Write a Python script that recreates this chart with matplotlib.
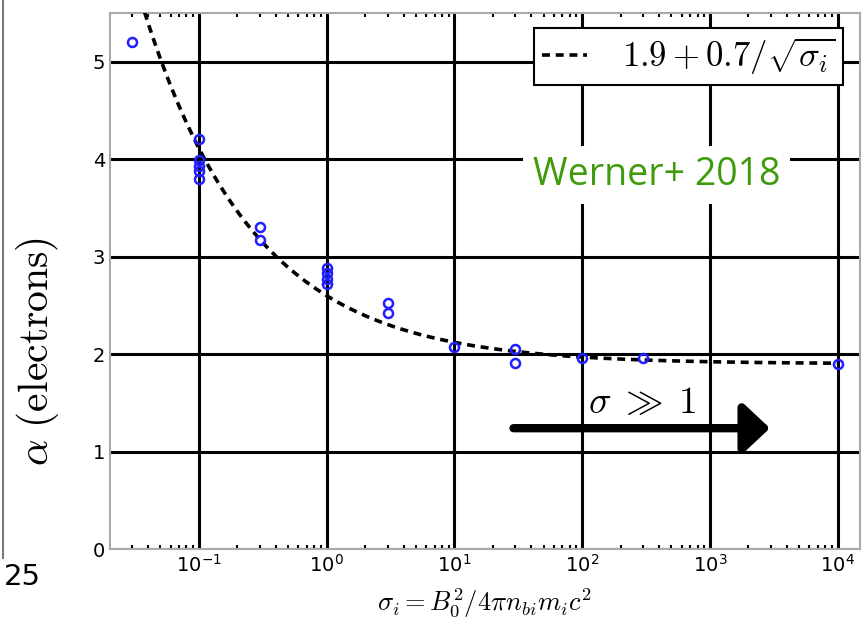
import numpy as np
import matplotlib
matplotlib.use("Agg")
import matplotlib.pyplot as plt
from matplotlib.lines import Line2D
from matplotlib.font_manager import FontProperties

# measured power-law index vs. magnetisation
sigma = [0.03,
         0.1, 0.1, 0.1, 0.1, 0.1,
         0.3, 0.3,
         1.0, 1.0, 1.0, 1.0,
         3.0, 3.0,
         10.0,
         30.0, 30.0,
         100.0,
         300.0,
         1e4]
alpha = [5.2,
         4.21, 3.99, 3.93, 3.88, 3.80,
         3.30, 3.17,
         2.88, 2.83, 2.77, 2.72,
         2.52, 2.42,
         2.07,
         2.05, 1.91,
         1.96,
         1.96,
         1.90]

# fit: alpha = a0 + a1/sqrt(sigma)
a0 = 1.9
a1 = 0.7

plt.rcParams['mathtext.fontset'] = 'dejavusans'
plt.rcParams['font.family'] = ['DejaVu Sans']

fig = plt.figure(figsize=(8.65, 6.26), dpi=100)
ax = fig.add_axes([0.127, 0.123, 0.867, 0.856])

xs = np.logspace(np.log10(0.03), 4, 400)
ax.plot(xs, a0 + a1 / np.sqrt(xs), 'k--', lw=2.6, dashes=(2.2, 1.6),
        label=r'$1.9+0.7/\sqrt{\sigma_i}$', zorder=3)
ax.plot(sigma, alpha, 'o', mfc='none', mec='#2020ff', mew=1.8, ms=6.5,
        zorder=4)

ax.set_xscale('log')
ax.set_xlim(0.0201, 1.49e4)
ax.set_ylim(0, 5.5)
ax.set_yticks([0, 1, 2, 3, 4, 5])
ax.set_xticks([1e-1, 1e0, 1e1, 1e2, 1e3, 1e4])
ax.grid(True, which='major', color='black', lw=2.2)
ax.tick_params(which='both', direction='in', top=True, right=False,
               labelsize=14)
ax.tick_params(which='major', length=4, width=1)
ax.tick_params(which='minor', length=3, width=1.5)
ax.tick_params(axis='y', left=False)
for s in ax.spines.values():
    s.set_color('#aaaaaa')
    s.set_linewidth(1.5)

ax.set_ylabel(r'$\alpha\ \mathrm{(electrons)}$', fontsize=30,
              math_fontfamily='cm')
ax.yaxis.set_label_coords(-0.065, 0.368)
ax.set_xlabel(r'$\sigma_i = B_0^2/4\pi n_{bi} m_i c^2$', fontsize=19,
              math_fontfamily='cm', labelpad=8)

leg = ax.legend(loc='upper right', bbox_to_anchor=(0.977, 0.972),
                borderaxespad=0,
                prop=FontProperties(size=25, math_fontfamily='cm'),
                fancybox=False, framealpha=1, edgecolor='black',
                handlelength=1.3, handletextpad=1.0, borderpad=0.22)
leg.get_frame().set_linewidth(1.5)

ax.text(0.729, 0.698, 'Werner+ 2018', transform=ax.transAxes,
        fontsize=27, color='#3f9b0b', family='Open Sans', ha='center',
        va='center', zorder=6,
        bbox=dict(facecolor='white', edgecolor='none', pad=7))

# high-sigma arrow
ax.annotate('', xy=(2950, 1.24), xytext=(29, 1.24),
            arrowprops=dict(arrowstyle='-|>,head_length=0.8,head_width=0.75',
                            mutation_scale=20, lw=6, color='black',
                            shrinkA=0, shrinkB=0),
            zorder=7)
ax.text(295, 1.31, r'$\sigma\;\gg\;1$', fontsize=27, math_fontfamily='cm',
        ha='center', va='bottom', zorder=7)

# edge of the neighbouring panel
fig.add_artist(Line2D([0.003, 0.003], [0.108, 1.0], color='#777777', lw=1.5,
                      transform=fig.transFigure))
fig.text(0.005, 0.078, '25', fontsize=21, ha='left', va='center')

fig.savefig('out.png', dpi=100)
